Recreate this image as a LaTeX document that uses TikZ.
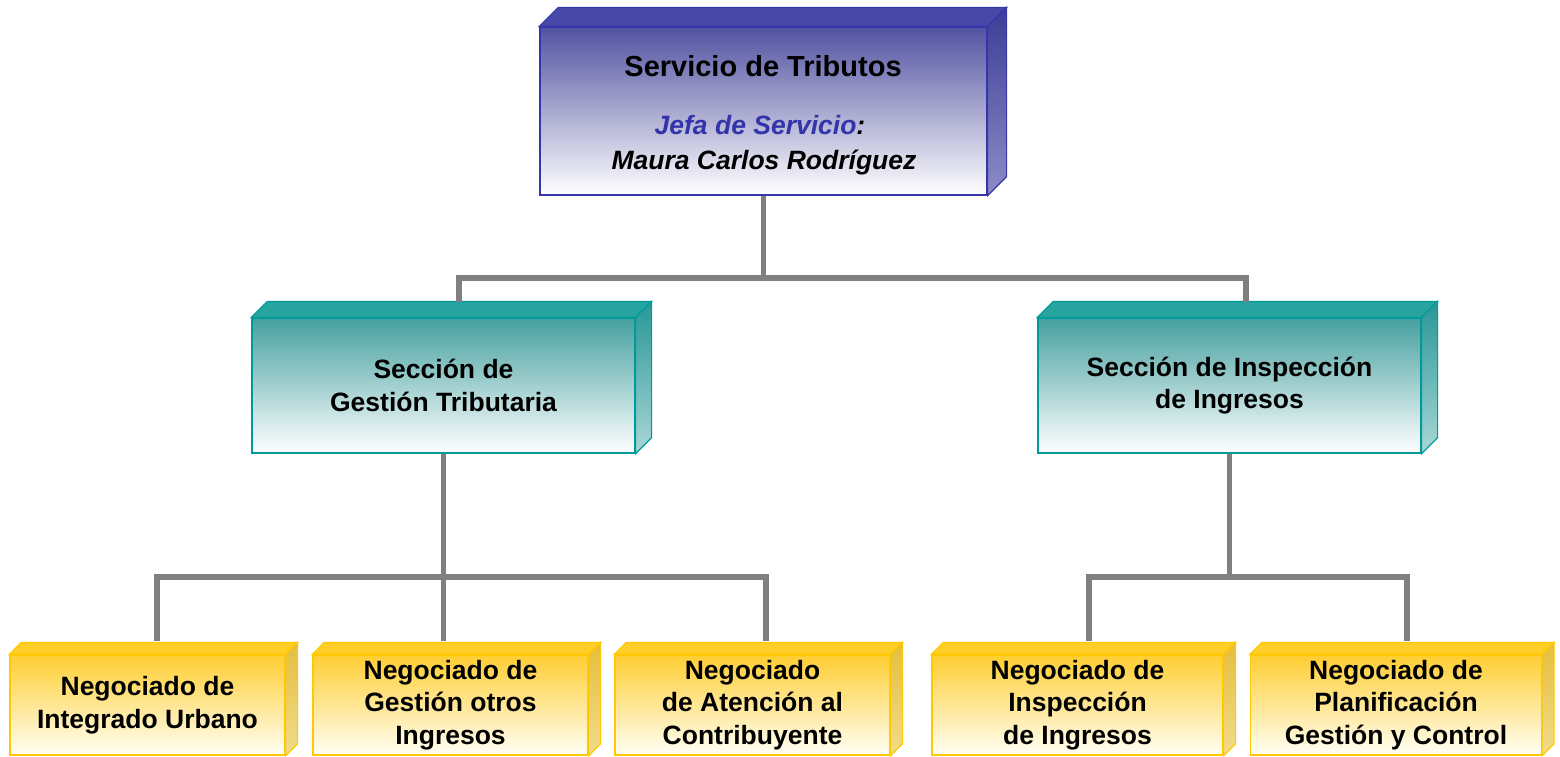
\documentclass[tikz,border=0pt]{standalone}
\usepackage{fontspec}
\setmainfont{Liberation Sans}
\usetikzlibrary{calc}
\definecolor{linegray}{RGB}{128,128,128}
\definecolor{navyb}{RGB}{54,54,168}
\definecolor{navytop}{RGB}{72,72,168}
\definecolor{navyfront}{RGB}{82,82,162}
\definecolor{navyside1}{RGB}{60,60,150}
\definecolor{navyside2}{RGB}{140,140,200}
\definecolor{tealb}{RGB}{0,154,154}
\definecolor{tealtop}{RGB}{40,164,160}
\definecolor{tealfront}{RGB}{70,160,160}
\definecolor{tealside1}{RGB}{40,150,150}
\definecolor{tealside2}{RGB}{170,215,215}
\definecolor{yelb}{RGB}{255,200,0}
\definecolor{yeltop}{RGB}{255,206,40}
\definecolor{yelfront}{RGB}{255,206,50}
\definecolor{yelbot}{RGB}{255,255,246}
\definecolor{yelside1}{RGB}{230,190,60}
\definecolor{yelside2}{RGB}{240,220,140}
\definecolor{jefablue}{RGB}{51,51,170}
\newcommand\cubefaces[6]{%
  \path[draw=#5, line width=1.2pt, fill=#3]
    (#1.north west) -- ++(#2,-#2) -- ($(#1.north east)+(#2,-#2)$) -- (#1.north east) -- cycle;
  \path[draw=#5, line width=1.2pt, top color=#4, bottom color=#6]
    (#1.north east) -- ++(#2,-#2) -- ($(#1.south east)+(#2,-#2)$) -- (#1.south east) -- cycle;
}
\tikzset{
  conn/.style={draw=linegray, line width=5.5pt},
  boxtext/.style={font=\fontsize{26.5}{32.5}\selectfont\bfseries, align=center},
  frontbase/.style={inner sep=0pt, line width=1.2pt, boxtext},
  navyfacebox/.style={frontbase, draw=navyb, top color=navyfront, bottom color=white},
  tealfacebox/.style={frontbase, draw=tealb, top color=tealfront, bottom color=white},
  yelfacebox/.style={frontbase, draw=yelb, top color=yelfront, bottom color=yelbot,
    minimum width=275pt, minimum height=100pt},
  yelwide/.style={yelfacebox, minimum width=291pt},
}
\begin{document}
\begin{tikzpicture}[x=1pt, y=-1pt]
\useasboundingbox (0,0) rectangle (1560,756);

\coordinate (b1) at (763.5,278);
\coordinate (c1) at (459,302);
\coordinate (c2) at (1246,302);
\coordinate (b2) at (443.5,577);
\coordinate (b3) at (1229.5,577);
\coordinate (d1) at (157,641);
\coordinate (d2) at (443.5,641);
\coordinate (d3) at (766,641);
\coordinate (d4) at (1089,641);
\coordinate (d5) at (1407,641);

% boxes
\node[navyfacebox, minimum width=447pt, minimum height=168pt] (top) at (763.5,111) {};
\node[tealfacebox, minimum width=383pt, minimum height=135pt] (sec1) at (443.5,385.5)
  {Sección de\\Gestión Tributaria};
\node[tealfacebox, minimum width=383pt, minimum height=135pt] (sec2) at (1229.5,385.5)
  {Sección de Inspección\\de Ingresos};
\node[yelfacebox] (n1) at (147.5,705) {Negociado de\\Integrado Urbano};
\node[yelfacebox] (n2) at (450.5,705) {Negociado de\\Gestión otros\\Ingresos};
\node[yelfacebox] (n3) at (752.5,705) {Negociado\\de Atención al\\Contribuyente};
\node[yelwide] (n4) at (1077.5,705) {Negociado de\\Inspección\\de Ingresos};
\node[yelwide] (n5) at (1396,705) {Negociado de\\Planificación\\Gestión y Control};

\cubefaces{top}{19}{navytop}{navyside1}{navyb}{navyside2}
\cubefaces{sec1}{16}{tealtop}{tealside1}{tealb}{tealside2}
\cubefaces{sec2}{16}{tealtop}{tealside1}{tealb}{tealside2}
\cubefaces{n1}{12}{yeltop}{yelside1}{yelb}{yelside2}
\cubefaces{n2}{12}{yeltop}{yelside1}{yelb}{yelside2}
\cubefaces{n3}{12}{yeltop}{yelside1}{yelb}{yelside2}
\cubefaces{n4}{12}{yeltop}{yelside1}{yelb}{yelside2}
\cubefaces{n5}{12}{yeltop}{yelside1}{yelb}{yelside2}

% texts of top box
\node[font=\fontsize{29}{34}\selectfont\bfseries] (t1) at (763,66) {Servicio de Tributos};
\node[font=\fontsize{26.5}{32}\selectfont\bfseries\itshape] (t2) at (760,125)
  {\textcolor{jefablue}{Jefa de Servicio}:};
\node[font=\fontsize{26.5}{32}\selectfont\bfseries\itshape] (t3) at (764,163)
  {Maura Carlos Rodríguez};

% connectors
\draw[conn] (top.south) -- (b1);
\draw[conn] (c1) |- (b1) -| (c2);
\draw[conn] (sec1.south) -- (b2);
\draw[conn] (d1) |- (b2) -| (d3);
\draw[conn] (b2) -- (d2);
\draw[conn] (sec2.south) -- (b3);
\draw[conn] (d4) |- (b3) -| (d5);
\end{tikzpicture}
\end{document}
